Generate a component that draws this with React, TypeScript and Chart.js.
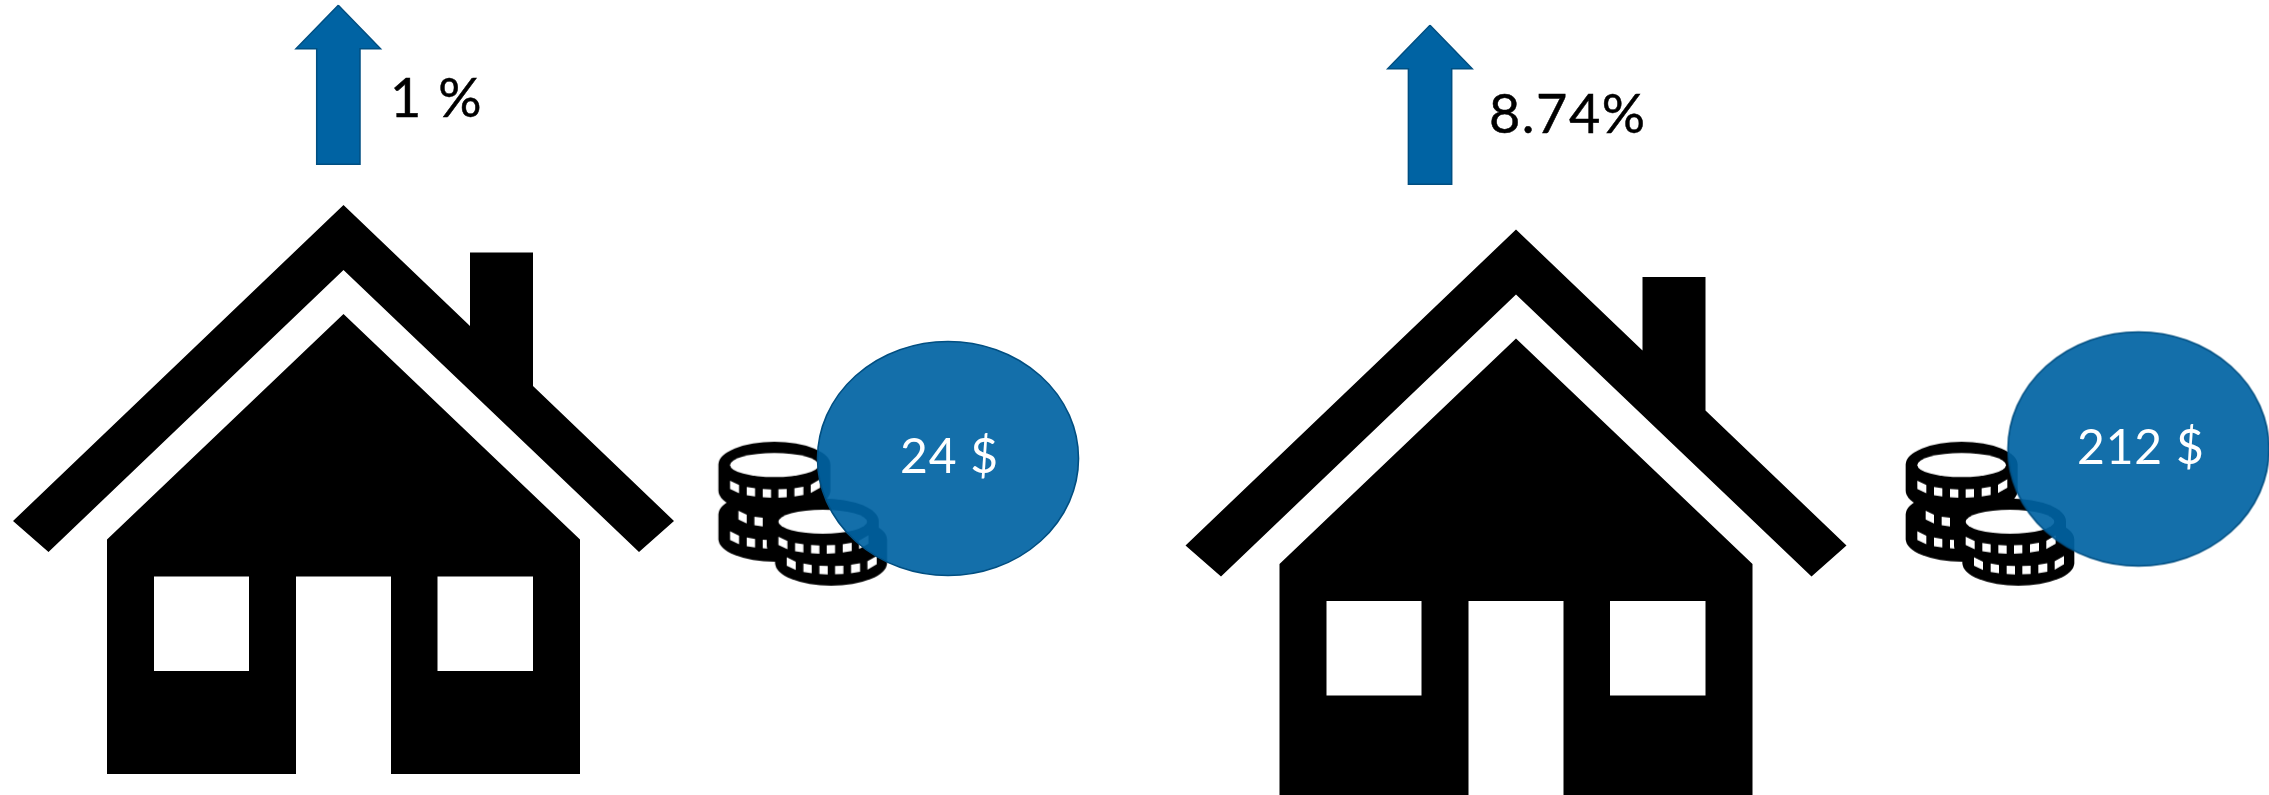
import React, { useEffect, useRef } from "react";
import { Chart, registerables } from "chart.js";

Chart.register(...registerables);

// ---- Values shown on the picture
const changeLabels = ["1 %", "8.74%"];
const priceLabels = ["24 $", "212 $"];

// ---- Pictogram geometry, in axis units
type P = { x: number; y: number };
const W = 2269;
const H = 795;

const houseOffsets: P[] = [{ x: 0, y: 0 }, { x: 1172.5, y: 24.5 }];
const arrowOffsets: P[] = [{ x: 0, y: 0 }, { x: 1091.7, y: 20 }];
const coinCentres: P[] = [{ x: 802.7, y: 513.7 }, { x: 1990, y: 513.7 }];
const bubbleCentres: P[] = [{ x: 948, y: 458.5 }, { x: 2138.5, y: 449 }];
const changeAnchors: P[] = [{ x: 390, y: 117 }, { x: 1489, y: 133 }];
const priceAnchors: P[] = [{ x: 900, y: 473 }, { x: 2077, y: 464 }];

const roof: number[][] = [[343.5, 205], [470, 326], [470, 252.5], [533, 252.5], [533, 386], [674, 521], [639, 552], [343.5, 270], [48.5, 552], [13, 521]];
const body: number[][] = [[343.5, 314], [580, 539.5], [580, 774], [391, 774], [391, 576.5], [296, 576.5], [296, 774], [107, 774], [107, 539.5]];
const windowLeft: number[][] = [[154, 576.5], [249, 576.5], [249, 671], [154, 671]];
const windowRight: number[][] = [[437.5, 576.5], [533, 576.5], [533, 671], [437.5, 671]];
const arrow: number[][] = [[338.3, 5.3], [380.5, 48.7], [360, 48.7], [360, 164.3], [316.7, 164.3], [316.7, 48.7], [296, 48.7]];

const BLUE = "#0063a3";
const BLUE_EDGE = "#004f82";

function poly(pts: number[][], off: P): P[] {
  const out = pts.map(([x, y]) => ({ x: x + off.x, y: y + off.y }));
  out.push({ ...out[0] });
  return out;
}

function shapeDataset(data: P[], color: string, edge?: string, edgeWidth = 0) {
  return {
    type: "scatter" as const,
    data,
    showLine: true,
    fill: "shape",
    tension: 0,
    backgroundColor: color,
    borderColor: edge ?? color,
    borderWidth: edgeWidth,
    pointRadius: 0,
    borderJoinStyle: "miter" as const,
  };
}

function makeBubble(): HTMLCanvasElement {
  const c = document.createElement("canvas");
  c.width = 266;
  c.height = 239;
  const g = c.getContext("2d")!;
  g.globalAlpha = 0.92;
  g.fillStyle = BLUE;
  g.beginPath();
  g.ellipse(133, 119.5, 130.5, 117, 0, 0, Math.PI * 2);
  g.fill();
  g.globalAlpha = 1;
  g.lineWidth = 1.6;
  g.strokeStyle = BLUE_EDGE;
  g.stroke();
  return c;
}

// Coin icon, drawn in the 3x crop's units and scaled to a third
function makeCoins(): HTMLCanvasElement {
  const c = document.createElement("canvas");
  c.width = 240;
  c.height = 156;
  const g = c.getContext("2d")!;
  const ox = 338 - 360;
  const oy = 581 - 234;
  g.scale(1 / 3, 1 / 3);
  g.translate(-ox, -oy);

  const coin = (cx: number, top: number, bot: number, rx: number, ry: number) => {
    g.fillStyle = "#000";
    g.beginPath();
    g.ellipse(cx, top + ry, rx, ry, 0, Math.PI, 0);
    g.lineTo(cx + rx, bot - ry);
    g.ellipse(cx, bot - ry, rx, ry, 0, 0, Math.PI);
    g.closePath();
    g.fill();
  };
  const ticks = (cx: number, cy: number, a: number, b: number, h: number, spans: number[][]) => {
    g.fillStyle = "#fff";
    const yAt = (dx: number) => cy + b * Math.sqrt(Math.max(0, 1 - (dx / a) * (dx / a)));
    for (const [l, r] of spans) {
      g.beginPath();
      g.moveTo(cx + l, yAt(l));
      g.lineTo(cx + r, yAt(r));
      g.lineTo(cx + r, yAt(r) + h);
      g.lineTo(cx + l, yAt(l) + h);
      g.closePath();
      g.fill();
    }
  };
  const top = (cx: number, cy: number) => {
    g.fillStyle = "#fff";
    g.beginPath();
    g.ellipse(cx, cy, 133, 36, 0, 0, Math.PI * 2);
    g.fill();
  };
  const full = [[-133, -106], [-83, -58], [-35, -10], [12, 37], [60, 87], [109, 137]];

  // left stack
  coin(253, 365, 580, 168, 68);
  coin(253, 515, 725, 168, 68);
  top(253, 435);
  ticks(253, 470, 140, 38, 25, full);
  ticks(253, 560, 115, 35, 26, [[-108, -83], [-60, -35]]);
  ticks(253, 622, 140, 38, 26, [[-133, -106], [-83, -58], [-35, -18]]);

  // right stack
  coin(423, 590, 797, 168, 68);
  coin(398, 535, 745, 168, 68);
  top(398, 605);
  ticks(398, 638, 140, 38, 25, full);
  ticks(423, 700, 140, 38, 25, full);
  return c;
}

export default function App() {
  const ref = useRef<HTMLCanvasElement>(null);

  useEffect(() => {
    const bubble = makeBubble();
    const coins = makeCoins();

    const datasets: any[] = [];
    houseOffsets.forEach((off) => {
      datasets.push(shapeDataset(poly(roof, off), "#000"));
      datasets.push(shapeDataset(poly(body, off), "#000"));
      datasets.push(shapeDataset(poly(windowLeft, off), "#fff"));
      datasets.push(shapeDataset(poly(windowRight, off), "#fff"));
    });
    arrowOffsets.forEach((off) => {
      datasets.push(shapeDataset(poly(arrow, off), BLUE, BLUE_EDGE, 1.5));
    });
    datasets.push({ type: "scatter", data: coinCentres, pointStyle: coins, pointRadius: 1 });
    datasets.push({ type: "scatter", data: bubbleCentres, pointStyle: bubble, pointRadius: 1, clip: false });
    datasets.forEach((d, i) => { d.order = datasets.length - i; });

    const textPlugin = {
      id: "pictogramText",
      afterDatasetsDraw(chart: any) {
        const { ctx, scales } = chart;
        ctx.save();
        ctx.textAlign = "left";
        ctx.textBaseline = "alphabetic";
        ctx.font = '400 54px Lato, "Noto Sans", sans-serif';
        (ctx as any).letterSpacing = "1.5px";
        ctx.fillStyle = "#000";
        ctx.strokeStyle = "#000";
        ctx.lineWidth = 0.5;
        changeLabels.forEach((t, i) => {
          const x = scales.x.getPixelForValue(changeAnchors[i].x);
          const y = scales.y.getPixelForValue(changeAnchors[i].y);
          ctx.fillText(t, x, y);
          ctx.strokeText(t, x, y);
        });
        ctx.font = '400 48px Lato, "Noto Sans", sans-serif';
        (ctx as any).letterSpacing = "0.8px";
        ctx.fillStyle = "#fff";
        priceLabels.forEach((t, i) => {
          ctx.fillText(t, scales.x.getPixelForValue(priceAnchors[i].x), scales.y.getPixelForValue(priceAnchors[i].y));
        });
        ctx.restore();
      },
    };

    const chart = new Chart(ref.current!, {
      type: "scatter",
      data: { datasets },
      options: {
        animation: false,
        responsive: false,
        events: [],
        layout: { padding: 0, autoPadding: false },
        plugins: { legend: { display: false }, tooltip: { enabled: false }, title: { display: false } },
        scales: {
          x: { type: "linear", min: 0, max: W, display: false },
          y: { type: "linear", min: 0, max: H, reverse: true, display: false },
        },
      },
      plugins: [textPlugin],
    } as any);
    return () => chart.destroy();
  }, []);

  return (
    <canvas
      ref={ref}
      width={W}
      height={H}
      style={{ position: "fixed", left: 0, top: 0, display: "block", width: W, height: H, background: "#fff" }}
    />
  );
}
